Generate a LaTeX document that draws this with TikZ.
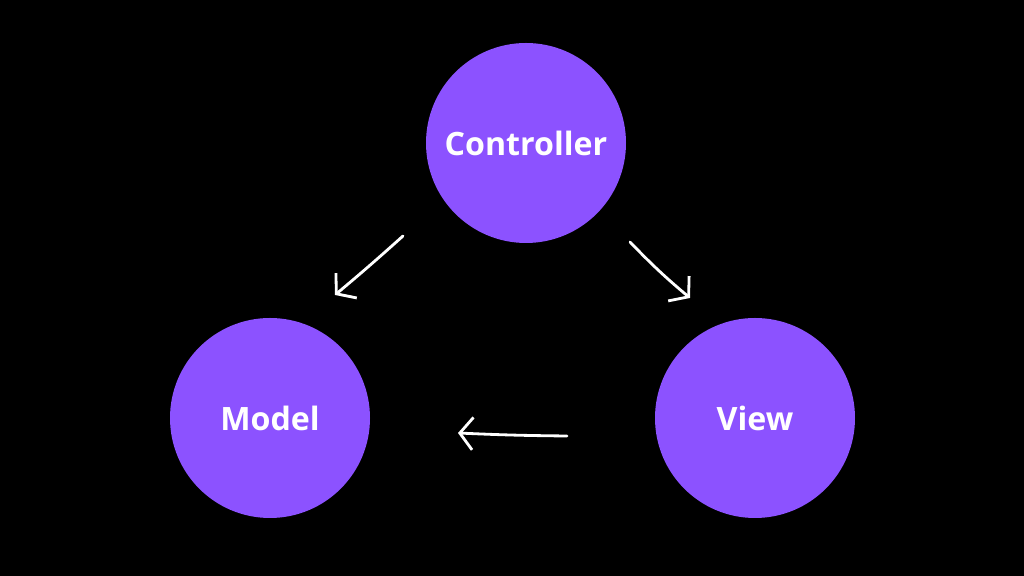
\documentclass[tikz,border=0pt]{standalone}
\usepackage{fontspec}
\setmainfont{Open Sans}
\usepackage{tikz}
\usetikzlibrary{arrows.meta, positioning}
\definecolor{mvcPurple}{RGB}{140,82,255}
\definecolor{mvcBlack}{RGB}{0,0,0}

\begin{document}
\begin{tikzpicture}[
part/.style={circle, fill=mvcPurple, draw=none, minimum size=4cm,
inner sep=0pt, text=white, font=\fontsize{18.3}{21}\selectfont\bfseries},
arrow/.style={-{Straight Barb[length=2.6mm, width=6.5mm]}, line width=1.6pt,
color=white, line cap=round, line join=round}]

% background and frame
\fill[mvcBlack] (0,0) rectangle (20.48,11.52);
\useasboundingbox (0,0) rectangle (20.48,11.52);

\node[part] (controller) at (10.52,8.66) {Controller};
\node[part] (model) at (5.40,3.16) {Model};
\node[part] (view) at (15.10,3.16) {View};

% free ends of the arrows
\coordinate (cm1) at ([shift={(-2.46,-1.86)}]controller.center);
\coordinate (cm2) at ([shift={(1.30,2.46)}]model.center);
\coordinate (cv1) at ([shift={(2.08,-1.98)}]controller.center);
\coordinate (cv2) at ([shift={(-1.30,2.40)}]view.center);
\coordinate (vm1) at ([shift={(-3.76,-0.36)}]view.center);
\coordinate (vm2) at ([shift={(3.76,-0.30)}]model.center);

\draw[arrow] (cm1) to[bend left=1] (cm2);
\draw[arrow] (cv1) to[bend right=3] (cv2);
\draw[arrow] (vm1) to[bend left=1] (vm2);
\end{tikzpicture}
\end{document}
